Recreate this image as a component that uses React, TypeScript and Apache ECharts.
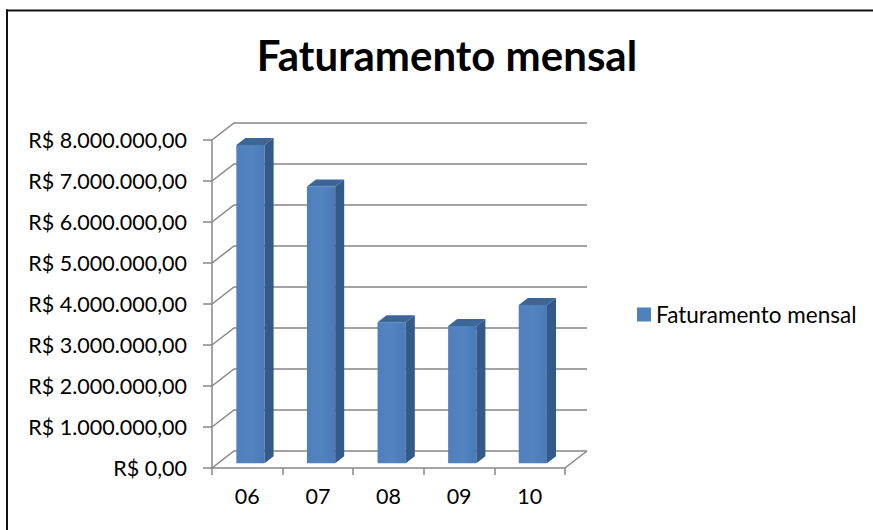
import React, { useEffect, useRef } from "react";
import * as echarts from "echarts";

const categories = ["06", "07", "08", "09", "10"];
const seriesName = "Faturamento mensal";
const values = [7760000, 6750000, 3440000, 3350000, 3860000];
const tickValues = [0, 1000000, 2000000, 3000000, 4000000, 5000000, 6000000, 7000000, 8000000];

const FONT = "Lato, 'Noto Sans', sans-serif";
const GRID_COLOR = "#878787";
const DEPTH_X = 22;
const DEPTH_Y = -17;
const BAR_FRONT = 0.28;
const BAR_DEPTH = 0.41;
const BAR_WIDTH = 0.4;

function formatBRL(v: number): string {
  const intPart = Math.round(v).toString().replace(/\B(?=(\d{3})+(?!\d))/g, ".");
  return "R$ " + intPart + ",00";
}

export default function App() {
  const ref = useRef<HTMLDivElement>(null);
  useEffect(() => {
    if (!ref.current) return;
    const chart = echarts.init(ref.current, null, { renderer: "svg" });
    const n = categories.length;
    chart.setOption({
      animation: false,
      backgroundColor: "#ffffff",
      title: {
        text: "Faturamento mensal",
        left: 442,
        textAlign: "center",
        top: 29,
        textStyle: { fontFamily: FONT, fontWeight: "bold", fontSize: 42, color: "#000" },
      },
      legend: {
        data: [seriesName],
        left: 632,
        top: 298,
        icon: "rect",
        itemWidth: 14,
        itemHeight: 14,
        itemGap: 8,
        textStyle: { fontFamily: FONT, fontSize: 22.5, color: "#000" },
      },
      graphic: [
        {
          type: "line",
          shape: { x1: 6, y1: 10.5, x2: 873, y2: 10.5 },
          style: { stroke: "#111", lineWidth: 2 },
          silent: true,
        },
        {
          type: "line",
          shape: { x1: 7, y1: 9.5, x2: 7, y2: 530 },
          style: { stroke: "#111", lineWidth: 2 },
          silent: true,
        },
      ],
      grid: { left: 212, top: 140, width: 353, height: 328 },
      xAxis: {
        type: "category",
        data: categories,
        axisLine: { show: true, lineStyle: { color: GRID_COLOR, width: 1.5 } },
        axisTick: { show: true, length: 7, lineStyle: { color: GRID_COLOR, width: 1.5 } },
        axisLabel: { margin: 17, fontFamily: FONT, fontSize: 21.5, color: "#000" },
        splitLine: { show: false },
      },
      yAxis: {
        type: "value",
        min: 0,
        max: 8000000,
        interval: 1000000,
        axisLine: { show: true, lineStyle: { color: GRID_COLOR, width: 1.5 } },
        axisTick: { show: true, length: 9, lineStyle: { color: GRID_COLOR, width: 1.5 } },
        axisLabel: {
          margin: 25,
          fontFamily: FONT,
          fontSize: 21.5,
          color: "#000",
          formatter: (v: number) => formatBRL(v),
        },
        splitLine: { show: false },
      },
      series: [
        {
          type: "custom",
          name: "walls",
          silent: true,
          data: tickValues.map((v) => [0, v]),
          encode: { x: 0, y: 1 },
          renderItem: (params: any, api: any) => {
            const v = api.value(1);
            const band = api.size([1, 0])[0];
            const p0 = api.coord([0, v]);
            const pN = api.coord([n - 1, v]);
            const x0 = p0[0] - band / 2;
            const x1 = pN[0] + band / 2;
            const y = p0[1];
            const children: any[] = [
              {
                type: "polyline",
                shape: {
                  points: [
                    [x0, y],
                    [x0 + DEPTH_X, y + DEPTH_Y],
                    [x1 + DEPTH_X, y + DEPTH_Y],
                  ],
                },
                style: { stroke: GRID_COLOR, lineWidth: 1.5, fill: "none" },
              },
            ];
            if (v === 0) {
              children.push({
                type: "line",
                shape: { x1: x1, y1: y, x2: x1 + DEPTH_X, y2: y + DEPTH_Y },
                style: { stroke: GRID_COLOR, lineWidth: 1.5 },
              });
            }
            return { type: "group", children };
          },
          z: 1,
        },
        {
          type: "custom",
          name: seriesName,
          data: values.map((v, i) => [i, v]),
          encode: { x: 0, y: 1 },
          itemStyle: { color: "#4F81BD" },
          renderItem: (params: any, api: any) => {
            const i = api.value(0);
            const v = api.value(1);
            const band = api.size([1, 0])[0];
            const base = api.coord([i, 0]);
            const top = api.coord([i, v]);
            const fx = DEPTH_X * BAR_FRONT;
            const fy = DEPTH_Y * BAR_FRONT;
            const dx = DEPTH_X * BAR_DEPTH;
            const dy = DEPTH_Y * BAR_DEPTH;
            const w = band * BAR_WIDTH;
            const left = base[0] - w / 2 + fx - 3;
            const right = left + w;
            const yb = base[1] + fy;
            const yt = top[1] + fy;
            return {
              type: "group",
              children: [
                {
                  type: "rect",
                  shape: { x: left, y: yt, width: w, height: yb - yt },
                  style: {
                    fill: new echarts.graphic.LinearGradient(0, 0, 1, 0, [
                      { offset: 0, color: "#4F7FBC" },
                      { offset: 0.5, color: "#5384C0" },
                      { offset: 1, color: "#4A7AB7" },
                    ]),
                  },
                },
                {
                  type: "polygon",
                  shape: {
                    points: [
                      [right, yt],
                      [right + dx, yt + dy],
                      [right + dx, yb + dy],
                      [right, yb],
                    ],
                  },
                  style: { fill: "#335A88" },
                },
                {
                  type: "polygon",
                  shape: {
                    points: [
                      [left, yt],
                      [left + dx, yt + dy],
                      [right + dx, yt + dy],
                      [right, yt],
                    ],
                  },
                  style: { fill: "#3C6698" },
                },
              ],
            };
          },
          z: 2,
        },
      ],
    });
    return () => chart.dispose();
  }, []);
  return (
    <div
      ref={ref}
      style={{ position: "absolute", left: 0, top: 0, width: 873, height: 530 }}
    />
  );
}
